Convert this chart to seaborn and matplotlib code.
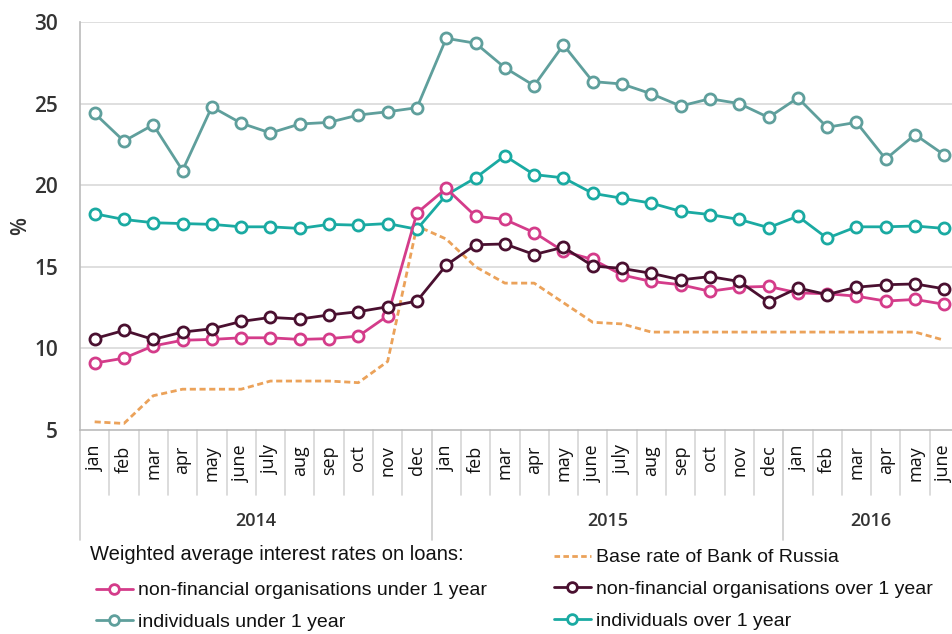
import matplotlib
matplotlib.use("Agg")
import matplotlib.pyplot as plt
import seaborn as sns
import numpy as np
import pandas as pd
from matplotlib.lines import Line2D
import matplotlib.transforms as mtransforms

months = ["jan", "feb", "mar", "apr", "may", "june", "july", "aug", "sep", "oct", "nov", "dec",
          "jan", "feb", "mar", "apr", "may", "june", "july", "aug", "sep", "oct", "nov", "dec",
          "jan", "feb", "mar", "apr", "may", "june"]
years = ["2014", "2015", "2016"]
year_counts = [12, 12, 6]

ind_under = [24.4, 22.7, 23.7, 20.9, 24.8, 23.8, 23.2, 23.75, 23.85, 24.3, 24.5, 24.75,
             29.0, 28.7, 27.2, 26.1, 28.6, 26.35, 26.2, 25.6, 24.85, 25.3, 25.0, 24.15,
             25.35, 23.55, 23.85, 21.6, 23.1, 21.85]
ind_over = [18.25, 17.9, 17.7, 17.65, 17.6, 17.45, 17.45, 17.35, 17.6, 17.55, 17.65, 17.3,
            19.4, 20.45, 21.8, 20.65, 20.45, 19.5, 19.2, 18.9, 18.4, 18.2, 17.9, 17.4,
            18.1, 16.75, 17.45, 17.45, 17.5, 17.35]
nf_under = [9.1, 9.4, 10.15, 10.5, 10.55, 10.65, 10.65, 10.55, 10.6, 10.75, 12.0, 18.3,
            19.8, 18.1, 17.9, 17.1, 15.95, 15.45, 14.5, 14.1, 13.9, 13.5, 13.75, 13.8,
            13.4, 13.35, 13.2, 12.9, 13.0, 12.7]
nf_over = [10.6, 11.1, 10.55, 11.0, 11.2, 11.65, 11.9, 11.8, 12.05, 12.25, 12.55, 12.9,
           15.1, 16.35, 16.4, 15.75, 16.2, 15.05, 14.9, 14.6, 14.2, 14.4, 14.1, 12.85,
           13.7, 13.3, 13.75, 13.9, 13.95, 13.65]
base_rate = [5.5, 5.4, 7.1, 7.5, 7.5, 7.5, 8.0, 8.0, 8.0, 7.9, 9.2, 17.5,
             16.7, 15.0, 14.0, 14.0, 12.8, 11.6, 11.5, 11.0, 11.0, 11.0, 11.0, 11.0,
             11.0, 11.0, 11.0, 11.0, 11.0, 10.5]

legend_title = "Weighted average interest rates on loans:"
lbl_base = "Base rate of Bank of Russia"
lbl_nfu = "non-financial organisations under 1 year"
lbl_nfo = "non-financial organisations over 1 year"
lbl_iu = "individuals under 1 year"
lbl_io = "individuals over 1 year"

c_nfu = "#d43c8a"
c_nfo = "#4a1030"
c_iu = "#5f9f9c"
c_io = "#1aaaa2"
c_base = "#eba25a"

sns.set_theme(style="white")
plt.rcParams["font.family"] = ["Open Sans", "DejaVu Sans"]

W, H = 953, 634
fig = plt.figure(figsize=(W / 100, H / 100), dpi=100)
ax = fig.add_axes([80 / W, 1 - 430 / H, 879 / W, 408 / H])

x = np.arange(len(months))
df = pd.DataFrame({"x": x, "iu": ind_under, "io": ind_over, "nfu": nf_under,
                   "nfo": nf_over, "base": base_rate})

sns.lineplot(data=df, x="x", y="base", ax=ax, color=c_base, lw=2.0,
             linestyle=(0, (2.2, 1.3)), zorder=2)
for col, c in [("iu", c_iu), ("io", c_io), ("nfu", c_nfu), ("nfo", c_nfo)]:
    sns.lineplot(data=df, x="x", y=col, ax=ax, color=c, lw=2.0, marker="o",
                 markersize=8, markerfacecolor="white", markeredgecolor=c,
                 markeredgewidth=2.0, zorder=3)

ax.set_xlim(-0.5, len(months) - 0.5)
ax.set_ylim(5, 30)
ax.set_yticks([5, 10, 15, 20, 25, 30])
ax.set_yticklabels(["5", "10", "15", "20", "25", "30"], fontsize=15,
                   fontweight="semibold", color="#333333")
ax.tick_params(axis="y", length=0, pad=16)
ax.set_xticks(x)
ax.set_xticklabels(months, rotation=90, fontsize=13, color="#111111")
ax.tick_params(axis="x", length=0, pad=11)
ax.set_xlabel("")
ax.set_ylabel("")
fig.text(21 / W, 1 - 226 / H, "%", rotation=90, ha="center", va="center",
         fontsize=15, fontweight="semibold", color="#333333")

for yv in [10, 15, 20, 25, 30]:
    ax.axhline(yv, color="#d9d9d9", lw=1.2, zorder=0)
for s in ["top", "right"]:
    ax.spines[s].set_visible(False)
ax.spines["left"].set_color("#bbbbbb")
ax.spines["bottom"].set_color("#bbbbbb")
ax.spines["left"].set_linewidth(1.2)
ax.spines["bottom"].set_linewidth(1.2)

trans = mtransforms.blended_transform_factory(ax.transData, ax.transAxes)
y_month = -(495 - 430) / 408
y_year = -(540 - 430) / 408
boundaries = np.cumsum([0] + year_counts) - 0.5
for i in range(len(months) + 1):
    xb = i - 0.5
    if xb in boundaries:
        ax.plot([xb, xb], [0, y_year], color="#cccccc", lw=1.2, transform=trans,
                clip_on=False)
    else:
        ax.plot([xb, xb], [0, y_month], color="#d5d5d5", lw=1.2, transform=trans,
                clip_on=False)
y_ylab = -(521 - 430) / 408
for k, yr in enumerate(years):
    xc = (boundaries[k] + boundaries[k + 1]) / 2
    ax.text(xc, y_ylab, yr, transform=trans, ha="center", va="center",
            fontsize=13, fontweight="semibold", color="#333333")

fam = ["Liberation Sans", "DejaVu Sans"]
fs = 14
fig.text(90 / W, 1 - 555 / H, legend_title, ha="left", va="center", fontsize=fs + 0.5,
         family=fam, color="#111111")

def h(c, ls="-", marker="o"):
    return Line2D([], [], color=c, lw=2.0, linestyle=ls, marker=marker, markersize=7,
                  markerfacecolor="white", markeredgecolor=c, markeredgewidth=2.0)

leg1 = fig.legend([h(c_nfu), h(c_iu)], [lbl_nfu, lbl_iu], loc="upper left",
                  bbox_to_anchor=(86 / W, 1 - 572 / H), frameon=False,
                  prop={"family": fam, "size": fs}, handlelength=1.9,
                  handletextpad=0.3, labelspacing=0.72, borderpad=0)
leg2 = fig.legend([h(c_base, ls=(0, (2, 1.2)), marker=None), h(c_nfo), h(c_io)],
                  [lbl_base, lbl_nfo, lbl_io], loc="upper left",
                  bbox_to_anchor=(544 / W, 1 - 539 / H), frameon=False,
                  prop={"family": fam, "size": fs}, handlelength=1.9,
                  handletextpad=0.3, labelspacing=0.72, borderpad=0)
for leg in (leg1, leg2):
    for t in leg.get_texts():
        t.set_color("#111111")

fig.savefig("out.png", dpi=100)
